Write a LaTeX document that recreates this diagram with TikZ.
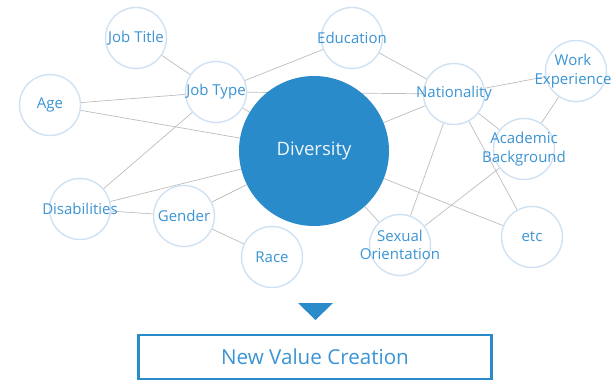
\documentclass[tikz,border=0pt]{standalone}
\usepackage{fontspec}
\setmainfont{Open Sans}
\usetikzlibrary{backgrounds}
\definecolor{ringblue}{HTML}{D0E1F3}
\definecolor{textblue}{HTML}{3B94D4}
\definecolor{hubblue}{HTML}{2A8BCB}
\definecolor{linkgray}{HTML}{BDBDBD}
\tikzset{
  topic/.style={circle, draw=ringblue, line width=1.4pt, fill=white,
    minimum size=61pt, inner sep=0pt,
    label={[topictext]center:#1}},
  topictext/.style={text=textblue, align=center, inner sep=0pt,
    font=\fontsize{15}{18.5}\selectfont},
  hub/.style={circle, fill=hubblue, minimum size=150pt, inner sep=0pt,
    text=white!92!hubblue, font=\fontsize{18.5}{22}\selectfont},
  link/.style={draw=linkgray, line width=0.7pt},
  resultbox/.style={draw=hubblue, line width=2.4pt, fill=white,
    minimum width=353pt, minimum height=44pt, inner sep=0pt,
    text=textblue, font=\fontsize{20.6}{24}\selectfont}
}
\begin{document}
\begin{tikzpicture}[x=1pt,y=-1pt]
  \useasboundingbox (0,0) rectangle (611,381);

  % central hub
  \node[hub] (div) at (314,151) {Diversity};

  % surrounding topics
  \node[topic={Job Title}]            (jobtitle) at (136,38)  {};
  \node[topic={Age}]                  (age)      at (50,105)  {};
  \node[topic={Job Type}]             (jobtype)  at (216,92)  {};
  \node[topic={Education}]            (edu)      at (352,38)  {};
  \node[topic={Nationality}]          (nat)      at (454,94)  {};
  \node[topic={}, label={[topictext, xshift=-3pt]center:Work\\Experience}]
                                      (work)     at (576,71)  {};
  \node[topic={Academic\\Background}] (acad)     at (524,149) {};
  \node[topic={Disabilities}]         (disab)    at (80,209)  {};
  \node[topic={Gender}]               (gender)   at (184,216) {};
  \node[topic={Race}]                 (race)     at (272,257) {};
  \node[topic={Sexual\\Orientation}]  (sexual)   at (400,245) {};
  \node[topic={etc}]                  (etc)      at (532,237) {};

  % connections, kept behind the circles
  \begin{scope}[on background layer]
    \draw[link] (jobtitle) -- (jobtype);
    \draw[link] (age) -- (jobtype);
    \draw[link] (age) -- (div);
    \draw[link] (jobtype) -- (edu);
    \draw[link] (jobtype) -- (nat);
    \draw[link] (jobtype) -- (div);
    \draw[link] (jobtype) -- (disab);
    \draw[link] (edu) -- (nat);
    \draw[link] (nat) -- (div);
    \draw[link] (nat) -- (work);
    \draw[link] (nat) -- (acad);
    \draw[link] (nat) -- (sexual);
    \draw[link] (nat) -- (etc);
    \draw[link] (work) -- (acad);
    \draw[link] (acad) -- (sexual);
    \draw[link] (disab) -- (div);
    \draw[link] (disab) -- (gender);
    \draw[link] (gender) -- (div);
    \draw[link] (gender) -- (race);
    \draw[link] (div) -- (sexual);
    \draw[link] (div) -- (etc);
  \end{scope}

  % outcome
  \coordinate (tipL) at (298,303);
  \coordinate (tipR) at (333,303);
  \coordinate (tipB) at (315.5,320);
  \fill[hubblue] (tipL) -- (tipR) -- (tipB) -- cycle;
  \node[resultbox] (result) at (315,357) {New Value Creation};
\end{tikzpicture}
\end{document}
